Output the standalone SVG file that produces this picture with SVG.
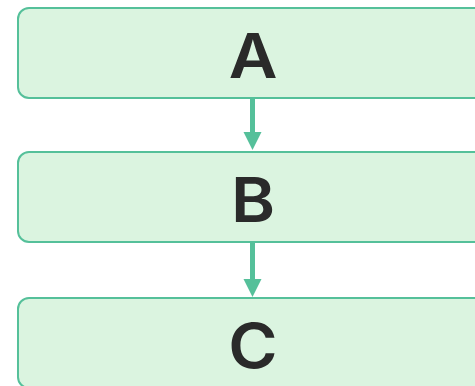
<svg xmlns="http://www.w3.org/2000/svg" width="475" height="386" viewBox="0 0 475 386">
<defs>
<style>
.box{fill:#dbf4e0;stroke:#55c09a;stroke-width:2}
.lbl{font-family:Inter,"Liberation Sans",sans-serif;font-weight:600;font-size:62px;fill:#2a2a2a;text-anchor:middle}
.edge{stroke:#55c09a;stroke-width:5;fill:none}
.head{fill:#55c09a}
</style>
</defs>
<rect width="475" height="386" fill="#ffffff"/>
<g id="nodeA"><rect class="box" x="18" y="8" width="470" height="90" rx="11"/><text class="lbl" transform="translate(253,78) scale(1.08,1)">A</text></g>
<g id="nodeB"><rect class="box" x="18" y="152" width="470" height="90" rx="11"/><text class="lbl" transform="translate(253,222) scale(1.08,1)">B</text></g>
<g id="nodeC"><rect class="box" x="18" y="298" width="470" height="90" rx="11"/><text class="lbl" transform="translate(253,368) scale(1.08,1)">C</text></g>
<g id="edges">
<line class="edge" x1="252.5" y1="99" x2="252.5" y2="134"/>
<polygon class="head" points="243.5,132 261.5,132 252.5,150"/>
<line class="edge" x1="252.5" y1="243" x2="252.5" y2="280"/>
<polygon class="head" points="243.5,279 261.5,279 252.5,297"/>
</g>
</svg>
